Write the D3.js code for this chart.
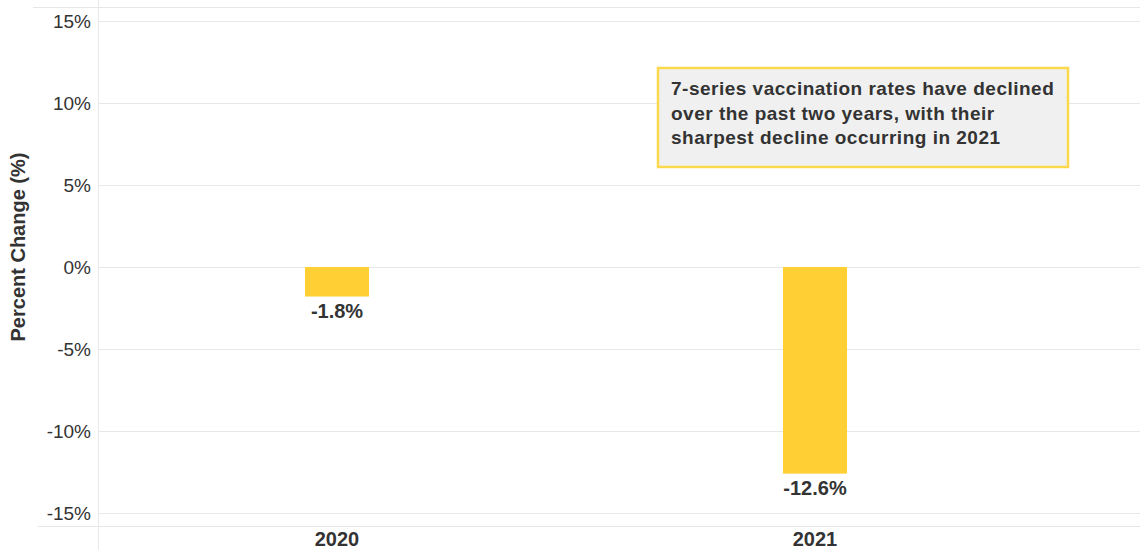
<!DOCTYPE html>
<html><head><meta charset="utf-8">
<script src="https://cdn.jsdelivr.net/npm/d3@7"></script>
<style>body{margin:0;background:#fff}svg{display:block;font-family:"Liberation Sans",Arial,sans-serif}</style>
</head><body><svg id="c" width="1140" height="550"></svg>
<script>
const categories = ["2020", "2021"];
const values = [-1.8, -12.6];
const valueLabels = ["-1.8%", "-12.6%"];
const yTicks = [15, 10, 5, 0, -5, -10, -15];
const yTickLabels = ["15%", "10%", "5%", "0%", "-5%", "-10%", "-15%"];
const yTitle = "Percent Change (%)";
const noteLines = ["7-series vaccination rates have declined", "over the past two years, with their", "sharpest decline occurring in 2021"];

const svg = d3.select("#c");
const left = 98, right = 1140, plotRight = 1054;
const y = d3.scaleLinear().domain([-15, 15]).range([513, 21]);
const x = d3.scaleBand().domain(categories).range([left, plotRight]).paddingInner(0.866).paddingOuter(0.433);

// top & bottom frame lines
svg.append("line").attr("x1", 33).attr("x2", right).attr("y1", 7.5).attr("y2", 7.5).attr("stroke", "#e6e6e6");
svg.append("line").attr("x1", 38).attr("x2", right).attr("y1", 526.5).attr("y2", 526.5).attr("stroke", "#e6e6e6");
// gridlines
svg.append("g").selectAll("line").data(yTicks).join("line")
  .attr("x1", left).attr("x2", right)
  .attr("y1", d => Math.round(y(d)) + 0.5).attr("y2", d => Math.round(y(d)) + 0.5)
  .attr("stroke", "#e8e8e8");
// vertical axis line
svg.append("line").attr("x1", left + 0.5).attr("x2", left + 0.5).attr("y1", 0).attr("y2", 550).attr("stroke", "#e8e8e8");

// y tick labels
svg.append("g").selectAll("text").data(yTicks).join("text")
  .attr("x", 91).attr("y", d => y(d) + 6.5)
  .attr("text-anchor", "end").attr("font-size", 19).attr("fill", "#333")
  .text((d, i) => yTickLabels[i]);

// y title
svg.append("text").attr("transform", "translate(25,247) rotate(-90)")
  .attr("text-anchor", "middle").attr("font-size", 20).attr("font-weight", "bold").attr("fill", "#333")
  .text(yTitle);

// bars
svg.append("g").selectAll("rect").data(values).join("rect")
  .attr("x", (d, i) => x(categories[i])).attr("width", x.bandwidth())
  .attr("y", d => y(Math.max(0, d))).attr("height", d => Math.abs(y(d) - y(0)))
  .attr("fill", "#ffcf33");

// value labels
svg.append("g").selectAll("text").data(values).join("text")
  .attr("x", (d, i) => x(categories[i]) + x.bandwidth() / 2)
  .attr("y", d => y(d) + 21)
  .attr("text-anchor", "middle").attr("font-size", 20).attr("font-weight", "bold").attr("fill", "#333")
  .text((d, i) => valueLabels[i]);

// x labels
svg.append("g").selectAll("text").data(categories).join("text")
  .attr("x", d => x(d) + x.bandwidth() / 2).attr("y", 546)
  .attr("text-anchor", "middle").attr("font-size", 20).attr("font-weight", "bold").attr("fill", "#333")
  .text(d => d);

// annotation
const note = svg.append("g");
note.append("rect").attr("x", 658).attr("y", 68).attr("width", 410).attr("height", 99)
  .attr("fill", "#f0f0f0").attr("stroke", "#fcd94b").attr("stroke-width", 2.5);
note.selectAll("text").data(noteLines).join("text")
  .attr("x", 671).attr("y", (d, i) => 95 + i * 24.5)
  .attr("font-size", 19).attr("letter-spacing", 0.5).attr("font-weight", "bold").attr("fill", "#333")
  .text(d => d);
</script></body></html>
